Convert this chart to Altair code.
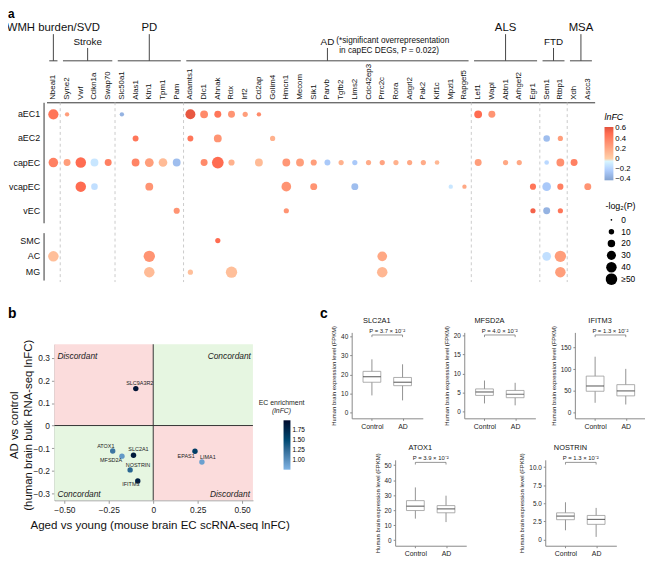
import altair as alt
import pandas as pd
import numpy as np

# ======================= Panel a data =======================
genes = ["Nbeal1", "Syne2", "Vwf", "Cdkn1a", "Swap70",
         "Slc50a1", "Alas1", "Ktn1", "Tpm1", "Pam",
         "Adamts1", "Dlc1", "Ahnak", "Rdx", "Irf2", "Cd2ap", "Golim4", "Hmcn1", "Mecom", "Sik1",
         "Parvb", "Tgfb2", "Lims2", "Cdc42ep3", "Prrc2c", "Rora", "Adgrl2", "Pak2", "Kif1c", "Mpzl1", "Rapgef5",
         "Lef1", "Wapl", "Abtn1", "Arhgef2", "Egr1",
         "Sem1", "Rtbp1",
         "Xdh", "Ascc3"]
group_names = ["WMH burden/SVD", "Stroke", "PD", "AD", "ALS", "FTD", "MSA"]
group_sizes = [1, 4, 5, 21, 5, 2, 2]
group_tier = ["high", "low", "high", "low", "high", "low", "high"]
ec_cells = ["aEC1", "aEC2", "capEC", "vcapEC", "vEC"]
other_cells = ["SMC", "AC", "MG"]

aEC1_genes = ["Nbeal1", "Syne2", "Slc50a1", "Adamts1", "Dlc1", "Ahnak", "Rdx", "Irf2", "Cd2ap", "Lef1", "Wapl"]
aEC1_lnfc = [0.45, 0.25, -0.35, 0.6, 0.35, 0.45, 0.3, 0.25, 0.35, 0.5, 0.3]
aEC1_nlp = [38, 6, 6, 36, 22, 17, 17, 9, 6, 22, 17]

aEC2_genes = ["Alas1", "Adamts1", "Ahnak", "Golim4", "Sem1", "Rtbp1"]
aEC2_lnfc = [0.45, 0.45, 0.3, 0.15, -0.3, 0.25]
aEC2_nlp = [12, 12, 22, 9, 15, 9]

capEC_genes = ["Nbeal1", "Syne2", "Vwf", "Cdkn1a", "Swap70", "Alas1", "Ktn1", "Tpm1", "Pam", "Dlc1",
               "Ahnak", "Rdx", "Cd2ap", "Hmcn1", "Mecom", "Sik1", "Parvb", "Tgfb2", "Lims2", "Cdc42ep3",
               "Prrc2c", "Rora", "Adgrl2", "Pak2", "Kif1c", "Lef1", "Abtn1", "Arhgef2", "Sem1", "Rtbp1", "Xdh"]
capEC_lnfc = [0.4, 0.25, 0.5, -0.12, 0.4, 0.38, 0.25, 0.1, -0.3, 0.35,
              0.5, 0.15, 0.1, 0.28, 0.25, 0.25, -0.25, 0.15, -0.25, 0.18,
              0.22, 0.15, 0.2, 0.18, 0.12, 0.25, 0.2, 0.2, -0.18, 0.32, 0.4]
capEC_nlp = [33, 17, 40, 22, 17, 22, 28, 27, 22, 17,
             55, 13, 22, 22, 22, 13, 12, 9, 9, 9,
             9, 9, 9, 9, 7, 17, 9, 9, 7, 22, 17]

vcapEC_genes = ["Vwf", "Cdkn1a", "Ktn1", "Hmcn1", "Sik1", "Lims2", "Mpzl1", "Rapgef5", "Egr1", "Sem1", "Rtbp1", "Ascc3"]
vcapEC_lnfc = [0.5, -0.15, 0.3, 0.3, 0.3, -0.3, -0.12, 0.2, 0.45, -0.25, 0.4, 0.3]
vcapEC_nlp = [40, 15, 22, 34, 17, 17, 6, 6, 13, 27, 13, 17]

vEC_genes = ["Pam", "Hmcn1", "Egr1", "Sem1", "Rtbp1"]
vEC_lnfc = [0.3, 0.3, 0.55, -0.35, 0.45]
vEC_nlp = [13, 9, 9, 17, 9]

SMC_genes = ["Ahnak"]
SMC_lnfc = [0.5]
SMC_nlp = [9]

AC_genes = ["Nbeal1", "Ktn1", "Prrc2c", "Sem1", "Rtbp1"]
AC_lnfc = [0.08, 0.3, 0.2, -0.15, 0.25]
AC_nlp = [40, 47, 34, 27, 47]

MG_genes = ["Ktn1", "Adamts1", "Rdx", "Prrc2c", "Rtbp1"]
MG_lnfc = [0.1, 0.08, 0.08, 0.12, 0.25]
MG_nlp = [40, 9, 47, 40, 40]

# ======================= Panel b data =======================
b_genes = ["SLC9A3R2", "ATOX1", "MFSD2A", "SLC2A1", "NOSTRIN", "IFITM3", "EPAS1", "LIMA1"]
b_mouse = [-0.098, -0.228, -0.176, -0.111, -0.130, -0.087, 0.235, 0.274]
b_human = [0.164, -0.113, -0.136, -0.132, -0.197, -0.246, -0.114, -0.162]
b_ec = [1.92, 1.18, 0.95, 1.88, 1.28, 1.82, 1.58, 0.90]

# ======================= Panel c data =======================
c_genes = ["SLC2A1", "MFSD2A", "IFITM3", "ATOX1", "NOSTRIN"]
c_pvals = ["P = 3.7 × 10⁻²", "P = 4.0 × 10⁻²", "P = 1.3 × 10⁻²", "P = 3.9 × 10⁻²", "P = 1.3 × 10⁻²"]
# [lower whisker, Q1, median, Q3, upper whisker]
c_control = [[9.0, 15.9, 18.8, 21.6, 27.9],
             [2.2, 4.3, 5.2, 6.0, 8.2],
             [22.0, 48.7, 60.9, 83.8, 128.7],
             [14.3, 19.7, 22.6, 26.3, 35.1],
             [1.27, 2.73, 3.23, 3.68, 5.14]]
c_ad = [[6.4, 14.1, 15.9, 18.4, 25.3],
        [1.7, 3.7, 4.6, 5.6, 7.6],
        [18.0, 38.0, 49.5, 64.0, 100.5],
        [12.0, 18.2, 20.8, 23.0, 29.6],
        [0.36, 2.09, 2.77, 3.32, 4.36]]
c_ticks = [[0, 10, 20, 30, 40], [0, 5, 10, 15, 20], [0, 50, 100, 150],
           [0, 10, 20, 30, 40, 50], [0, 2.5, 5, 7.5, 10]]
c_limits = [[-3, 42], [-1.7, 20.8], [-14, 185], [-3.75, 53.5], [-0.86, 11]]

# ======================= layout =======================
W, H = 645, 554
FONT = "Liberation Sans"
layers = []

# ---------- Panel a ----------
rows = []
for cell, g, v, s in [("aEC1", aEC1_genes, aEC1_lnfc, aEC1_nlp),
                      ("aEC2", aEC2_genes, aEC2_lnfc, aEC2_nlp),
                      ("capEC", capEC_genes, capEC_lnfc, capEC_nlp),
                      ("vcapEC", vcapEC_genes, vcapEC_lnfc, vcapEC_nlp),
                      ("vEC", vEC_genes, vEC_lnfc, vEC_nlp),
                      ("SMC", SMC_genes, SMC_lnfc, SMC_nlp),
                      ("AC", AC_genes, AC_lnfc, AC_nlp),
                      ("MG", MG_genes, MG_lnfc, MG_nlp)]:
    for gg, vv, ss in zip(g, v, s):
        rows.append({"cell": cell, "gene": gg, "lnfc": float(vv), "nlp": float(ss)})
dots = pd.DataFrame(rows)

GX0, GX1 = 39, 594
def xs_band():
    return alt.Scale(type="band", domain=genes, range=[GX0, GX1], paddingInner=0, paddingOuter=0)
def xq_genes():
    return alt.Scale(domain=[0, len(genes)], range=[GX0, GX1], nice=False, zero=False)
def tier_scale():
    return alt.Scale(type="point", domain=["high", "low"], range=[23, 37], padding=0)
def c_scale():
    return alt.Scale(domain=[-0.43, 0, 0.63], range=["#7698cb", "#ffffff", "#df3f27"], clamp=True)
def s_scale():
    return alt.Scale(domain=[0, 50], range=[3, 140], clamp=True, zero=False)

starts = [int(v) for v in np.cumsum([0] + group_sizes[:-1])]
hdr = pd.DataFrame({"label": group_names, "tier": group_tier,
                    "x0": [s + 0.2 for s in starts],
                    "x1": [s + n - 0.2 for s, n in zip(starts, group_sizes)],
                    "xc": [s + n / 2.0 for s, n in zip(starts, group_sizes)]})
hb = alt.Chart(hdr)
layers.append(hb.mark_rule(color="#444", strokeWidth=1).encode(
    x=alt.X("x0:Q", scale=xq_genes(), axis=None), x2="x1:Q", y=alt.value(50)))
layers.append(hb.mark_rule(color="#444", strokeWidth=1).encode(
    x=alt.X("xc:Q", scale=xq_genes(), axis=None),
    y=alt.Y("tier:N", scale=tier_scale(), axis=None), y2=alt.value(50)))
for tier, fs in [("high", 11.5), ("low", 10)]:
    layers.append(hb.transform_filter(alt.datum.tier == tier).mark_text(
        fontSize=fs, dy=-3, baseline="alphabetic", color="#111").encode(
        x=alt.X("xc:Q", scale=xq_genes(), axis=None),
        y=alt.Y("tier:N", scale=tier_scale(), axis=None), text="label:N"))
for txt, dx, dy in [("(*significant overrepresentation", 9, -5), ("in capEC DEGs, P = 0.022)", 12, 5)]:
    layers.append(hb.transform_filter(alt.datum.label == "AD").mark_text(
        fontSize=8.3, dx=dx, dy=dy, align="left", baseline="alphabetic", color="#111", text=txt).encode(
        x=alt.X("xc:Q", scale=xq_genes(), axis=None),
        y=alt.Y("tier:N", scale=tier_scale(), axis=None)))

sep_df = pd.DataFrame({"gene": [genes[s] for s in starts[1:]]})
layers.append(alt.Chart(sep_df).mark_rule(color="#bdbdbd", strokeDash=[3, 3], strokeWidth=0.8).encode(
    x=alt.X("gene:N", scale=xs_band(), bandPosition=0, axis=None),
    y=alt.value(92), y2=alt.value(274)))

layers.append(alt.Chart(dots[dots.cell.isin(ec_cells)]).mark_circle(opacity=0.9).encode(
    x=alt.X("gene:N", scale=xs_band(),
            axis=alt.Axis(orient="top", offset=-92, labelAngle=-90, labelFontSize=8, ticks=False,
                          domainColor="#333", labelPadding=3, title=None, labelColor="#111")),
    y=alt.Y("cell:N", scale=alt.Scale(type="band", domain=ec_cells, range=[92, 214]),
            axis=alt.Axis(orient="left", offset=-36, ticks=False, labelFontSize=9, labelPadding=4,
                          domainColor="#333", title=None, labelColor="#111")),
    color=alt.Color("lnfc:Q", scale=c_scale(),
                    legend=alt.Legend(orient="none", legendX=604, legendY=103, title="lnFC",
                                      titleFontStyle="italic", titleFontWeight="normal", titleFontSize=9,
                                      titlePadding=5, gradientLength=54, gradientThickness=9,
                                      labelFontSize=7.8, labelOffset=2, labelOverlap=False,
                                      values=[-0.4, -0.2, 0, 0.2, 0.4, 0.6],
                                      labelExpr="datum.value == 0 ? '0' : format(datum.value, '.1f')",
                                      direction="vertical")),
    size=alt.Size("nlp:Q", scale=s_scale(),
                  legend=alt.Legend(orient="none", legendX=605, legendY=193, title="-log₂(P)",
                                    titleFontSize=9, titleFontWeight="normal", titlePadding=3,
                                    values=[0, 10, 20, 30, 40, 50],
                                    labelExpr="datum.value >= 50 ? '≥50' : datum.label",
                                    symbolFillColor="black", symbolStrokeColor="black",
                                    symbolStrokeWidth=0, clipHeight=12, rowPadding=0,
                                    symbolOpacity=1, labelFontSize=8.5, symbolType="circle")),
))

layers.append(alt.Chart(dots[dots.cell.isin(other_cells)]).mark_circle(opacity=0.9).encode(
    x=alt.X("gene:N", scale=xs_band(), axis=None),
    y=alt.Y("cell:N", scale=alt.Scale(type="band", domain=other_cells, range=[224, 272]),
            axis=alt.Axis(orient="left", offset=-36, ticks=False, labelFontSize=9, labelPadding=4,
                          domainColor="#333", title=None, labelColor="#111")),
    color=alt.Color("lnfc:Q", scale=c_scale(), legend=None),
    size=alt.Size("nlp:Q", scale=s_scale(), legend=None),
))

# ---------- Panel b ----------
BX0, BX1 = -0.556, 0.561
BY0, BY1 = -0.332, 0.361
def xs_b():
    return alt.Scale(domain=[BX0, BX1], range=[47, 248], nice=False, zero=False)
def ys_b():
    return alt.Scale(domain=[BY0, BY1], range=[495, 337], nice=False, zero=False)

quad = pd.DataFrame({"x0": [BX0, 0.0, BX0, 0.0], "x1": [0.0, BX1, 0.0, BX1],
                     "y0": [0.0, 0.0, BY0, BY0], "y1": [BY1, BY1, 0.0, 0.0],
                     "kind": ["Discordant", "Concordant", "Concordant", "Discordant"]})
for kind, col in [("Discordant", "#fbdcdc"), ("Concordant", "#e6f6e1")]:
    layers.append(alt.Chart(quad).transform_filter(alt.datum.kind == kind).mark_rect(color=col).encode(
        x=alt.X("x0:Q", scale=xs_b(), axis=None), x2="x1:Q",
        y=alt.Y("y0:Q", scale=ys_b(), axis=None), y2="y1:Q"))

zero_v = pd.DataFrame({"x": [0.0], "y0": [BY0], "y1": [BY1]})
zero_h = pd.DataFrame({"y": [0.0], "x0": [BX0], "x1": [BX1]})
layers.append(alt.Chart(zero_v).mark_rule(color="#333", strokeWidth=1).encode(
    x=alt.X("x:Q", scale=xs_b(), axis=None), y=alt.Y("y0:Q", scale=ys_b(), axis=None), y2="y1:Q"))
layers.append(alt.Chart(zero_h).mark_rule(color="#333", strokeWidth=1).encode(
    y=alt.Y("y:Q", scale=ys_b(), axis=None), x=alt.X("x0:Q", scale=xs_b(), axis=None), x2="x1:Q"))

bdf = pd.DataFrame({"gene": b_genes, "mouse": b_mouse, "human": b_human, "ec": b_ec})
layers.append(alt.Chart(bdf).mark_circle(size=30, opacity=1).encode(
    x=alt.X("mouse:Q", scale=xs_b(),
            axis=alt.Axis(orient="bottom", offset=-(H - 495), values=[-0.5, -0.25, 0, 0.25, 0.5],
                          labelExpr="datum.value == 0 ? '0' : format(datum.value, '.2f')",
                          title="Aged vs young (mouse brain EC scRNA-seq lnFC)",
                          titleX=153.5, titleY=29, titleBaseline="alphabetic", titleFontSize=11.7,
                          titleFontWeight="normal", labelFontSize=8.5, tickSize=3, labelPadding=2,
                          domainColor="#999", tickColor="#999", labelColor="#222", titleColor="#111")),
    y=alt.Y("human:Q", scale=ys_b(),
            axis=alt.Axis(orient="left", offset=-47, values=[-0.3, -0.2, -0.1, 0, 0.1, 0.2, 0.3],
                          labelExpr="datum.value == 0 ? '0' : format(datum.value, '.1f')",
                          title=None, labelFontSize=8.5, tickSize=3, labelPadding=2,
                          domainColor="#999", tickColor="#999", labelColor="#222")),
    color=alt.Color("ec:Q", scale=alt.Scale(domain=[0.77, 1.98], range=["#80b5e5", "#000000"]),
                    legend=alt.Legend(orient="none", legendX=279, legendY=414, title=None,
                                      gradientLength=50, gradientThickness=7, labelFontSize=6.5,
                                      labelOverlap=False,
                                      values=[1.0, 1.25, 1.5, 1.75], format=".2f",
                                      direction="vertical")),
))
label_nudges = {"SLC9A3R2": (4, -4), "ATOX1": (-7, -3), "MFSD2A": (-11, 6), "SLC2A1": (5, -4),
                "NOSTRIN": (8, -3), "IFITM3": (-7, 5), "EPAS1": (-9, 7), "LIMA1": (6, -3)}
for g, (dx, dy) in label_nudges.items():
    layers.append(alt.Chart(bdf).transform_filter(alt.datum.gene == g).mark_text(
        fontSize=5.5, dx=dx, dy=dy, baseline="alphabetic", color="#222").encode(
        x=alt.X("mouse:Q", scale=xs_b(), axis=None), y=alt.Y("human:Q", scale=ys_b(), axis=None),
        text="gene:N"))

corner_df = pd.DataFrame({"txt": ["Discordant", "Concordant", "Concordant", "Discordant"],
                          "x": [BX0, BX1, BX0, BX1], "y": [BY1, BY1, BY0, BY0],
                          "pos": ["tl", "tr", "bl", "br"]})
for pos, dx, dy, align in [("tl", 3, 15, "left"), ("tr", -2, 15, "right"),
                           ("bl", 3, -3, "left"), ("br", -3, -3, "right")]:
    layers.append(alt.Chart(corner_df).transform_filter(alt.datum.pos == pos).mark_text(
        fontSize=8.5, fontStyle="italic", dx=dx, dy=dy, align=align, baseline="alphabetic",
        color="#222").encode(
        x=alt.X("x:Q", scale=xs_b(), axis=None), y=alt.Y("y:Q", scale=ys_b(), axis=None),
        text="txt:N"))

note_df = pd.DataFrame({"t": ["note"]})
# y-axis title of panel b (two lines, rotated)
for txt, xpos in [("AD vs control", 7), ("(human brain bulk RNA-seq lnFC)", 21)]:
    layers.append(alt.Chart(note_df).mark_text(fontSize=11.5, angle=270, align="center",
                                               baseline="middle", color="#111", text=txt).encode(
        x=alt.value(xpos), y=alt.value(419)))
layers.append(alt.Chart(note_df).mark_text(fontSize=7, align="center", baseline="alphabetic",
                                           color="#222", text="EC enrichment").encode(
    x=alt.value(277), y=alt.value(399)))
layers.append(alt.Chart(note_df).mark_text(fontSize=7, align="center", baseline="alphabetic",
                                           fontStyle="italic", color="#222", text="(lnFC)").encode(
    x=alt.value(277), y=alt.value(407)))

# ---------- Panel c ----------
c_left = [348, 462, 574, 392, 544]
c_bottom = [412, 412, 412, 541, 541]
c_top = [325, 325, 325, 454, 454]
for i in range(5):
    L, yb, yt = c_left[i], c_bottom[i], c_top[i]
    lo, hi = c_limits[i]
    def xs(L=L):
        return alt.Scale(type="point", domain=["Control", "AD"], range=[L, L + 72], padding=0.66)
    def ys(lo=lo, hi=hi, yb=yb, yt=yt):
        return alt.Scale(domain=[lo, hi], range=[yb, yt], nice=False, zero=False)
    st = [c_control[i], c_ad[i]]
    df = pd.DataFrame({"group": ["Control", "AD"],
                       "lo": [s[0] for s in st], "q1": [s[1] for s in st], "med": [s[2] for s in st],
                       "q3": [s[3] for s in st], "hi": [s[4] for s in st]})
    df["yb"] = hi - 0.03 * (hi - lo)
    df["yb2"] = hi - 0.055 * (hi - lo)
    df["ytop"] = float(hi)
    lab_expr = ("datum.value == 0 ? '0' : format(datum.value, '.1f')" if i == 4 else "datum.label")
    layers.append(alt.Chart(df).mark_rule(color="#777", strokeWidth=0.8).encode(
        x=alt.X("group:N", scale=xs(),
                axis=alt.Axis(orient="bottom", offset=-(H - yb), title=None, labelFontSize=7,
                              tickSize=2, labelPadding=2, labelAngle=0, domainColor="#888",
                              tickColor="#888", labelColor="#222")),
        y=alt.Y("lo:Q", scale=ys(),
                axis=alt.Axis(orient="left", offset=-L, values=c_ticks[i], labelExpr=lab_expr,
                              title="Human brain expression level (FPKM)", titleFontSize=6,
                              titleFontWeight="normal", labelFontSize=6.5, tickSize=2,
                              labelPadding=2, titlePadding=4, domainColor="#888", tickColor="#888",
                              labelColor="#222", titleColor="#222")),
        y2="hi:Q"))
    layers.append(alt.Chart(df).mark_bar(size=18, fill="white", stroke="#999", strokeWidth=0.8).encode(
        x=alt.X("group:N", scale=xs(), axis=None), y=alt.Y("q1:Q", scale=ys(), axis=None), y2="q3:Q"))
    layers.append(alt.Chart(df).mark_tick(size=18, thickness=1.2, color="#333").encode(
        x=alt.X("group:N", scale=xs(), axis=None), y=alt.Y("med:Q", scale=ys(), axis=None)))
    layers.append(alt.Chart(df).mark_line(color="#666", strokeWidth=0.7).encode(
        x=alt.X("group:N", scale=xs(), axis=None), y=alt.Y("yb:Q", scale=ys(), axis=None)))
    layers.append(alt.Chart(df).mark_rule(color="#666", strokeWidth=0.7).encode(
        x=alt.X("group:N", scale=xs(), axis=None), y=alt.Y("yb:Q", scale=ys(), axis=None), y2="yb2:Q"))
    layers.append(alt.Chart(df).transform_filter(alt.datum.group == "Control").mark_text(
        text=c_pvals[i], fontSize=6, dx=15.5, dy=-2.5, baseline="alphabetic", color="#222").encode(
        x=alt.X("group:N", scale=xs(), axis=None), y=alt.Y("yb:Q", scale=ys(), axis=None)))
    layers.append(alt.Chart(df).transform_filter(alt.datum.group == "Control").mark_text(
        text=c_genes[i], fontSize=7.5, dx=5, dy=-10, baseline="alphabetic", color="#111").encode(
        x=alt.X("group:N", scale=xs(), axis=None), y=alt.Y("ytop:Q", scale=ys(), axis=None)))

# ---------- Panel letters ----------
for t, x, y, fs in [("a", 0, 7, 12), ("b", 0, 310, 14), ("c", 316, 310, 14)]:
    layers.append(alt.Chart(note_df).mark_text(text=t, fontSize=fs, fontWeight="bold", align="left",
                                               baseline="alphabetic", color="#000").encode(
        x=alt.value(x), y=alt.value(y)))

chart = alt.layer(*layers).resolve_scale(
    x="independent", y="independent", color="independent", size="independent"
).properties(
    width=W, height=H, padding=0, autosize=alt.AutoSizeParams(type="none")
).configure(font=FONT).configure_axis(grid=False).configure_view(stroke=None)

chart.save("out.html", embed_options={"renderer": "svg", "actions": False})
